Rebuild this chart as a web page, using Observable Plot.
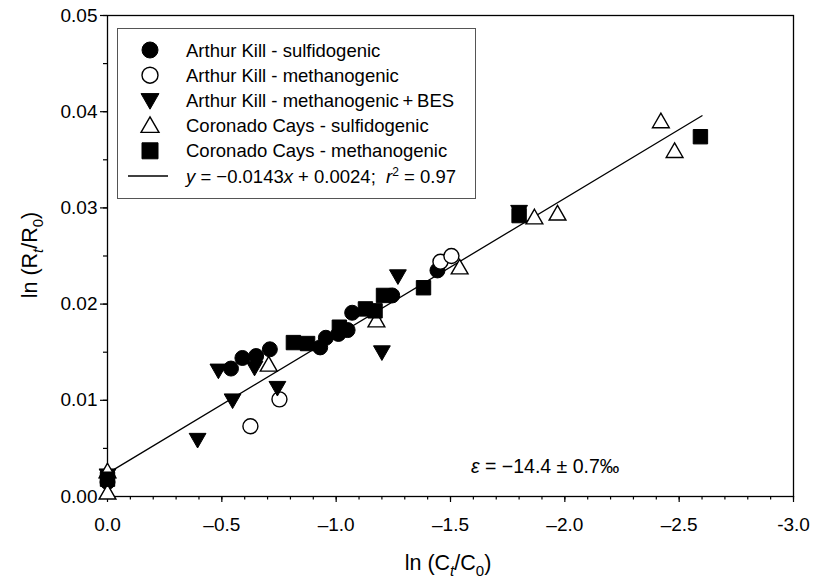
<!DOCTYPE html>
<html><head><meta charset="utf-8">
<script src="https://cdn.jsdelivr.net/npm/d3@7"></script>
<script src="https://cdn.jsdelivr.net/npm/@observablehq/plot@0.6"></script>
<style>
body{margin:0;background:#fff;}
#chart{position:relative;width:813px;height:580px;}
</style>
</head><body><div id="chart"></div>
<script>
// ---- data ----
const akSulfX = [0, 0, -0.54, -0.59, -0.65, -0.71, -0.93, -0.955, -1.01, -1.05, -1.07, -1.245, -1.443];
const akSulfY = [0.0015, 0.0020, 0.0133, 0.0144, 0.0146, 0.0153, 0.0155, 0.0165, 0.0169, 0.0173, 0.0191, 0.0209, 0.0235];
const akMethX = [-0.625, -0.752, -1.456, -1.504];
const akMethY = [0.0073, 0.0101, 0.0244, 0.0250];
const akBesX = [0, -0.394, -0.485, -0.547, -0.643, -0.743, -1.20, -1.27, -1.80];
const akBesY = [0.0022, 0.0059, 0.0131, 0.0100, 0.0134, 0.0113, 0.0150, 0.0229, 0.0296];
const ccSulfX = [0, 0, -0.705, -1.176, -1.54, -1.867, -1.968, -2.42, -2.48];
const ccSulfY = [0.0004, 0.0026, 0.0137, 0.0183, 0.0238, 0.0290, 0.0294, 0.0390, 0.0359];
const ccMethX = [0, -0.813, -0.875, -1.014, -1.128, -1.17, -1.207, -1.382, -1.80, -2.593];
const ccMethY = [0.0018, 0.0160, 0.0159, 0.0176, 0.0195, 0.0193, 0.0209, 0.0217, 0.0292, 0.0374];

const fitSlope = -0.0143, fitIntercept = 0.0024, fitRange = [0, -2.6];

const seriesNames = [
  "Arthur Kill - sulfidogenic",
  "Arthur Kill - methanogenic",
  "Arthur Kill - methanogenic\u2009+\u2009BES",
  "Coronado Cays - sulfidogenic",
  "Coronado Cays - methanogenic"
];
const xTicks = [0, -0.5, -1.0, -1.5, -2.0, -2.5, -3.0];
const xTickLabels = ["0.0", "\u20130.5", "\u20131.0", "\u20131.5", "\u20132.0", "\u20132.5", "-3.0"];
const xMinor = d3.range(0, 31).map(i => -i / 10);
const yTicks = [0, 0.01, 0.02, 0.03, 0.04, 0.05];
const yTickLabels = ["0.00", "0.01", "0.02", "0.03", "0.04", "0.05"];
const yMinor = d3.range(0, 11).map(i => i * 0.005);

// ---- symbols ----
const sym = {
  circle: {draw(c, s) { const r = Math.sqrt(s / Math.PI); c.moveTo(r, 0); c.arc(0, 0, r, 0, 2 * Math.PI); }},
  triDown: {draw(c, s) { const k = Math.sqrt(s / Math.PI); c.moveTo(-1.12 * k, -0.85 * k); c.lineTo(1.12 * k, -0.85 * k); c.lineTo(0, 1.1 * k); c.closePath(); }},
  triUp: {draw(c, s) { const k = Math.sqrt(s / Math.PI); c.moveTo(0, -1.1 * k); c.lineTo(1.12 * k, 0.85 * k); c.lineTo(-1.12 * k, 0.85 * k); c.closePath(); }},
  square: {draw(c, s) { const k = Math.sqrt(s / Math.PI); c.rect(-k, -k, 2 * k, 2 * k); }}
};
const styles = [
  {symbol: sym.circle, r: 7.5, fill: "black", stroke: "black", strokeWidth: 1},
  {symbol: sym.circle, r: 7.5, fill: "white", stroke: "black", strokeWidth: 1.4},
  {symbol: sym.triDown, r: 7.5, fill: "black", stroke: "black", strokeWidth: 1},
  {symbol: sym.triUp, r: 7.5, fill: "white", stroke: "black", strokeWidth: 1.4},
  {symbol: sym.square, r: 7.2, fill: "black", stroke: "black", strokeWidth: 1}
];
const zip = (xs, ys) => xs.map((x, i) => ({x, y: ys[i]}));
const series = [zip(akSulfX, akSulfY), zip(akMethX, akMethY), zip(akBesX, akBesY), zip(ccSulfX, ccSulfY), zip(ccMethX, ccMethY)];
const fit = fitRange.map(x => ({x, y: fitSlope * x + fitIntercept}));

const FONT = "'Liberation Sans', Arial, Helvetica, sans-serif";
const plot = Plot.plot({
  width: 813, height: 580,
  marginLeft: 107, marginRight: 20, marginTop: 15, marginBottom: 84,
  style: {fontFamily: FONT, fontSize: "19px", color: "black", background: "white", overflow: "visible"},
  x: {domain: [0, -3]},
  y: {domain: [0, 0.05]},
  marks: [
    Plot.axisX(xMinor, {tickSize: 3.5, tickFormat: () => "", label: null, strokeWidth: 1.2}),
    Plot.axisX(xTicks, {tickSize: 6, tickPadding: 15, tickFormat: d => xTickLabels[xTicks.indexOf(d)], label: null, strokeWidth: 1.2}),
    Plot.axisY(yMinor, {tickSize: 4, tickFormat: () => "", label: null, strokeWidth: 1.2}),
    Plot.axisY(yTicks, {tickSize: 7, tickPadding: 3, tickFormat: d => yTickLabels[yTicks.indexOf(d)], label: null, strokeWidth: 1.2}),
    Plot.frame({stroke: "black", strokeWidth: 1.3}),
    Plot.line(fit, {x: "x", y: "y", stroke: "black", strokeWidth: 1.3}),
    ...series.map((d, i) => Plot.dot(d, {x: "x", y: "y", ...styles[i]}))
  ]
});
document.getElementById("chart").appendChild(plot);

// ---- annotations, titles, legend ----
const svg = d3.select(plot);
const g = svg.append("g").attr("font-family", FONT).attr("font-size", 18.5).attr("fill", "black").attr("text-anchor", "start");

// x title
const xt = g.append("text").attr("x", 448).attr("y", 570).attr("text-anchor", "middle").attr("font-size", 21.5);
xt.append("tspan").text("ln (C");
xt.append("tspan").attr("font-style", "italic").attr("font-size", 15).attr("dy", 6).text("t");
xt.append("tspan").attr("dy", -6).text("/C");
xt.append("tspan").attr("font-size", 15).attr("dy", 6).text("0");
xt.append("tspan").attr("dy", -6).text(")");

// y title
const yt = g.append("text").attr("transform", "translate(37,255) rotate(-90)").attr("text-anchor", "middle").attr("font-size", 21.5);
yt.append("tspan").text("ln (R");
yt.append("tspan").attr("font-style", "italic").attr("font-size", 15).attr("dy", 6).text("t");
yt.append("tspan").attr("dy", -6).text("/R");
yt.append("tspan").attr("font-size", 15).attr("dy", 6).text("0");
yt.append("tspan").attr("dy", -6).text(")");

// epsilon annotation
const et = g.append("text").attr("x", 471).attr("y", 473).attr("text-anchor", "start").attr("font-size", 19.5);
et.append("tspan").attr("font-style", "italic").text("\u03b5");
et.append("tspan").text(" = \u221214.4 \u00b1 0.7\u2030");

// legend
const lg = g.append("g").attr("text-anchor", "start");
lg.append("rect").attr("x", 117.5).attr("y", 28.5).attr("width", 358).attr("height", 170)
  .attr("fill", "white").attr("stroke", "#555").attr("stroke-width", 1);
const rowY = i => 50 + i * 25.2;
seriesNames.forEach((name, i) => {
  const st = styles[i];
  const p = d3.path();
  st.symbol.draw(p, Math.PI * 8 * 8);
  lg.append("path").attr("d", p.toString()).attr("transform", `translate(150,${rowY(i)})`)
    .attr("fill", st.fill).attr("stroke", st.stroke).attr("stroke-width", st.strokeWidth);
  lg.append("text").attr("x", 186).attr("y", rowY(i) + 6.6).attr("text-anchor", "start").text(name);
});
lg.append("line").attr("x1", 128).attr("x2", 168).attr("y1", rowY(5)).attr("y2", rowY(5)).attr("stroke", "black").attr("stroke-width", 1.3);
const eq = lg.append("text").attr("x", 186).attr("y", rowY(5) + 6.6).attr("text-anchor", "start").style("white-space", "pre");
eq.append("tspan").attr("font-style", "italic").text("y");
eq.append("tspan").text(" = \u2212" + Math.abs(fitSlope).toFixed(4));
eq.append("tspan").attr("font-style", "italic").text("x");
eq.append("tspan").text(" + " + fitIntercept.toFixed(4) + ";  ");
eq.append("tspan").attr("font-style", "italic").text("r");
eq.append("tspan").attr("font-size", 12).attr("dy", -7).text("2");
eq.append("tspan").attr("dy", 7).text(" = 0.97");
</script></body></html>
